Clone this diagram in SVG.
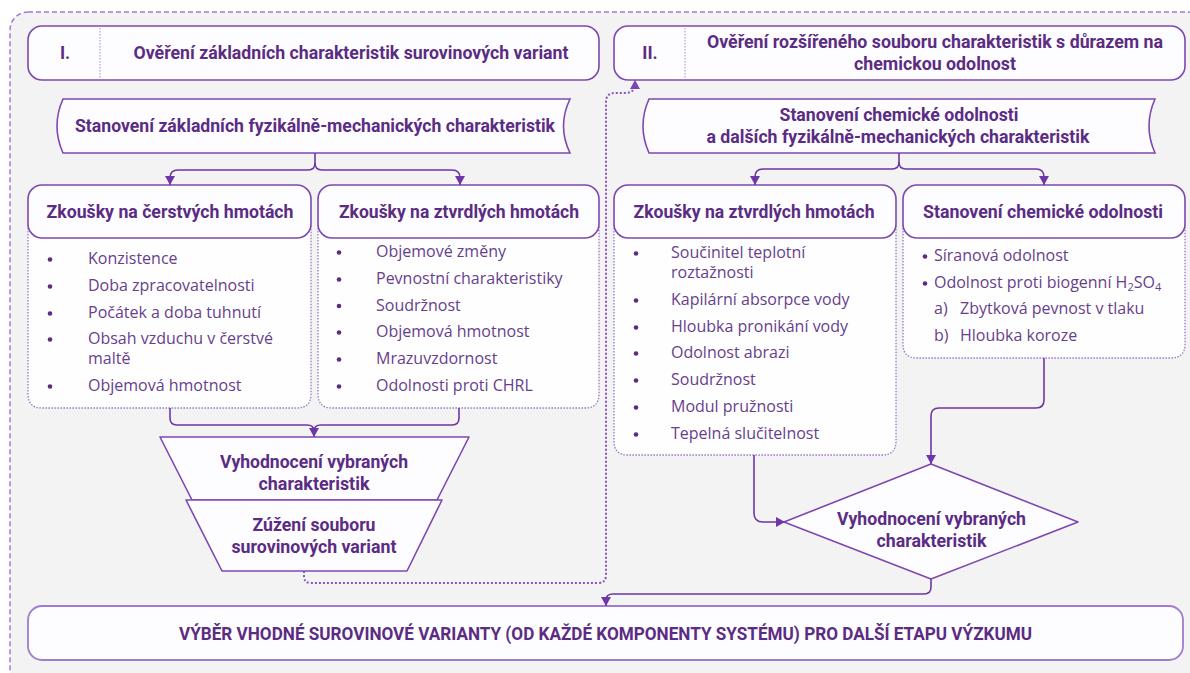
<svg xmlns="http://www.w3.org/2000/svg" width="1190" height="673" viewBox="0 0 1190 673">
<defs>
<style>
.hdr{font-family:Roboto,"Liberation Sans",sans-serif;font-weight:700;font-size:17.5px;fill:#5b2c83;text-anchor:middle}
.li{font-family:"Open Sans","Liberation Sans",sans-serif;font-size:16px;fill:#673f8c}
.box{fill:#fdfcfe;stroke:#7d48b0;stroke-width:1.6}
.body{fill:#fefefe;stroke:#9a75c6;stroke-width:1.3;stroke-dasharray:1.5 1.5}
.div{stroke:#a98bd0;stroke-width:1;stroke-dasharray:1.5 1.5}
.con{fill:none;stroke:#6e36a6;stroke-width:1.6}
.dot{fill:none;stroke:#8b52c2;stroke-width:2;stroke-dasharray:2 2}
.bul{fill:#5b2c83}
</style>
<marker id="ah" viewBox="0 0 10 10" refX="9" refY="5" markerWidth="10" markerHeight="10" markerUnits="userSpaceOnUse" orient="auto"><path d="M0,0 L9,5 L0,10 z" fill="#6e36a6"/></marker>
<marker id="ahd" viewBox="0 0 10 10" refX="9" refY="5" markerWidth="10" markerHeight="10" markerUnits="userSpaceOnUse" orient="auto"><path d="M0,0 L9,5 L0,10 z" fill="#7a44b4"/></marker>
</defs>
<rect x="0" y="0" width="1190" height="673" fill="#ffffff"/>
<rect x="10" y="12" width="1195" height="675" rx="18" fill="#f3f3f3" stroke="#a775dd" stroke-width="1.5" stroke-dasharray="5 3"/>

<g id="stage1">
<rect class="box" x="28" y="26" width="571" height="54" rx="14"/>
<line class="div" x1="100" y1="28" x2="100" y2="79"/>
<text class="hdr" x="65" y="59">I.</text>
<text class="hdr" x="351" y="59" textLength="435" lengthAdjust="spacingAndGlyphs">Ověření základních charakteristik surovinových variant</text>
</g>

<g id="stage2">
<rect class="box" x="614" y="26" width="571" height="54" rx="14"/>
<line class="div" x1="685" y1="28" x2="685" y2="79"/>
<text class="hdr" x="650" y="59">II.</text>
<text class="hdr" x="935" y="47.5" textLength="456" lengthAdjust="spacingAndGlyphs">Ověření rozšířeného souboru charakteristik s důrazem na</text>
<text class="hdr" x="935" y="69.5" textLength="162" lengthAdjust="spacingAndGlyphs">chemickou odolnost</text>
</g>

<g id="banner1">
<path class="box" d="M63,99 H570 Q557,126 570,153 H63 Q51,126 63,99 Z"/>
<text class="hdr" x="315" y="132" textLength="480" lengthAdjust="spacingAndGlyphs">Stanovení základních fyzikálně-mechanických charakteristik</text>
</g>

<g id="banner2">
<path class="box" d="M649,99 H1155 Q1143,126 1155,153 H649 Q637,126 649,99 Z"/>
<text class="hdr" x="899" y="121" textLength="239" lengthAdjust="spacingAndGlyphs">Stanovení chemické odolnosti</text>
<text class="hdr" x="898" y="143" textLength="383" lengthAdjust="spacingAndGlyphs">a dalších fyzikálně-mechanických charakteristik</text>
</g>

<g id="fresh">
<path class="body" d="M28,225 V394 Q28,408 42,408 H297 Q311,408 311,394 V225"/>
<rect class="box" x="28" y="185" width="283" height="53" rx="14"/>
<text class="hdr" x="170" y="218" textLength="247" lengthAdjust="spacingAndGlyphs">Zkoušky na čerstvých hmotách</text>
<circle class="bul" cx="50" cy="259.5" r="2.3"/><text class="li" x="88" y="264">Konzistence</text>
<circle class="bul" cx="50" cy="286.5" r="2.3"/><text class="li" x="88" y="291">Doba zpracovatelnosti</text>
<circle class="bul" cx="50" cy="313.5" r="2.3"/><text class="li" x="88" y="318">Počátek a doba tuhnutí</text>
<circle class="bul" cx="50" cy="339.5" r="2.3"/><text class="li" x="88" y="344">Obsah vzduchu v čerstvé</text>
<text class="li" x="88" y="364">maltě</text>
<circle class="bul" cx="50" cy="386.5" r="2.3"/><text class="li" x="88" y="391">Objemová hmotnost</text>
</g>

<g id="hardened1">
<path class="body" d="M318,225 V394 Q318,408 332,408 H585 Q599,408 599,394 V225"/>
<rect class="box" x="318" y="185" width="281" height="53" rx="14"/>
<text class="hdr" x="459" y="218" textLength="240" lengthAdjust="spacingAndGlyphs">Zkoušky na ztvrdlých hmotách</text>
<circle class="bul" cx="339" cy="252.5" r="2.3"/><text class="li" x="376" y="257">Objemové změny</text>
<circle class="bul" cx="339" cy="279.5" r="2.3"/><text class="li" x="376" y="284">Pevnostní charakteristiky</text>
<circle class="bul" cx="339" cy="306" r="2.3"/><text class="li" x="376" y="310.5">Soudržnost</text>
<circle class="bul" cx="339" cy="332.5" r="2.3"/><text class="li" x="376" y="337">Objemová hmotnost</text>
<circle class="bul" cx="339" cy="359.5" r="2.3"/><text class="li" x="376" y="364">Mrazuvzdornost</text>
<circle class="bul" cx="339" cy="386.5" r="2.3"/><text class="li" x="376" y="391">Odolnosti proti CHRL</text>
</g>

<g id="hardened2">
<path class="body" d="M614,225 V441 Q614,455 628,455 H882 Q896,455 896,441 V225"/>
<rect class="box" x="614" y="185" width="282" height="53" rx="14"/>
<text class="hdr" x="754" y="218" textLength="241" lengthAdjust="spacingAndGlyphs">Zkoušky na ztvrdlých hmotách</text>
<circle class="bul" cx="636" cy="253.5" r="2.3"/><text class="li" x="671" y="258">Součinitel teplotní</text>
<text class="li" x="671" y="278">roztažnosti</text>
<circle class="bul" cx="636" cy="300.5" r="2.3"/><text class="li" x="671" y="305">Kapilární absorpce vody</text>
<circle class="bul" cx="636" cy="327.5" r="2.3"/><text class="li" x="671" y="332">Hloubka pronikání vody</text>
<circle class="bul" cx="636" cy="353.5" r="2.3"/><text class="li" x="671" y="358">Odolnost abrazi</text>
<circle class="bul" cx="636" cy="380.5" r="2.3"/><text class="li" x="671" y="385">Soudržnost</text>
<circle class="bul" cx="636" cy="407.5" r="2.3"/><text class="li" x="671" y="412">Modul pružnosti</text>
<circle class="bul" cx="636" cy="434.5" r="2.3"/><text class="li" x="671" y="439">Tepelná slučitelnost</text>
</g>

<g id="chemical">
<path class="body" d="M903,225 V344 Q903,358 917,358 H1171 Q1185,358 1185,344 V225"/>
<rect class="box" x="903" y="185" width="282" height="53" rx="14"/>
<text class="hdr" x="1043" y="218" textLength="240" lengthAdjust="spacingAndGlyphs">Stanovení chemické odolnosti</text>
<circle class="bul" cx="925" cy="256.5" r="2.3"/><text class="li" x="934" y="261">Síranová odolnost</text>
<circle class="bul" cx="925" cy="283.5" r="2.3"/><text class="li" x="934" y="288">Odolnost proti biogenní H<tspan font-size="11" dy="3">2</tspan><tspan dy="-3">SO</tspan><tspan font-size="11" dy="3">4</tspan></text>
<text class="li" x="934" y="314">a)</text><text class="li" x="960" y="314">Zbytková pevnost v tlaku</text>
<text class="li" x="934" y="341">b)</text><text class="li" x="960" y="341">Hloubka koroze</text>
</g>

<g id="eval1">
<path class="box" stroke-linejoin="round" d="M160,437 H469 L437,500 H192 Z"/>
<text class="hdr" x="314" y="468" textLength="188" lengthAdjust="spacingAndGlyphs">Vyhodnocení vybraných</text>
<text class="hdr" x="314" y="489.5" textLength="111" lengthAdjust="spacingAndGlyphs">charakteristik</text>
</g>

<g id="narrow">
<path class="box" stroke-linejoin="round" d="M186,500 H442 L407,571 H222 Z"/>
<text class="hdr" x="314" y="530.5" textLength="123" lengthAdjust="spacingAndGlyphs">Zúžení souboru</text>
<text class="hdr" x="314" y="553" textLength="165" lengthAdjust="spacingAndGlyphs">surovinových variant</text>
</g>

<g id="eval2">
<path class="box" stroke-linejoin="round" d="M931,464 L1078,522 L931,579 L784,522 Z"/>
<text class="hdr" x="931.5" y="524.5" textLength="189" lengthAdjust="spacingAndGlyphs">Vyhodnocení vybraných</text>
<text class="hdr" x="931.5" y="546.5" textLength="110" lengthAdjust="spacingAndGlyphs">charakteristik</text>
</g>

<g id="final">
<rect x="28" y="606" width="1155" height="54" rx="14" fill="#fdfcfe" stroke="#a07bd0" stroke-width="1.8"/>
<text class="hdr" x="605.5" y="640" textLength="853" lengthAdjust="spacingAndGlyphs">VÝBĚR VHODNÉ SUROVINOVÉ VARIANTY (OD KAŽDÉ KOMPONENTY SYSTÉMU) PRO DALŠÍ ETAPU VÝZKUMU</text>
</g>

<g id="connectors">
<path class="con" d="M315,153 V163 Q315,170 308,170 H178 Q170,170 170,178 V185" marker-end="url(#ah)"/>
<path class="con" d="M315,163 Q315,170 322,170 H452 Q460,170 460,178 V185" marker-end="url(#ah)"/>
<path class="con" d="M899,153 V162 Q899,169 892,169 H763 Q755,169 755,177 V185" marker-end="url(#ah)"/>
<path class="con" d="M899,162 Q899,169 906,169 H1036 Q1044,169 1044,177 V185" marker-end="url(#ah)"/>
<path class="con" d="M170,408 V418 Q170,425 177,425 H307 Q314,425 314,431 V437" marker-end="url(#ah)"/>
<path class="con" d="M459,408 V418 Q459,425 452,425 H321 Q314,425 314,431"/>
<path class="dot" d="M304,571 V576 Q304,583 311,583 H598 Q606,583 606,575 V102 Q606,93 615,93 H625 Q635,93 635,84 V80" marker-end="url(#ahd)"/>
<path class="con" d="M1044,358 V400 Q1044,408 1036,408 H939 Q931,408 931,416 V464" marker-end="url(#ah)"/>
<path class="con" d="M754,455 V513 Q754,522 763,522 H785" marker-end="url(#ah)"/>
<path class="con" d="M931,579 V587 Q931,594 924,594 H613 Q606,594 606,600 V606" marker-end="url(#ah)"/>
</g>
</svg>
